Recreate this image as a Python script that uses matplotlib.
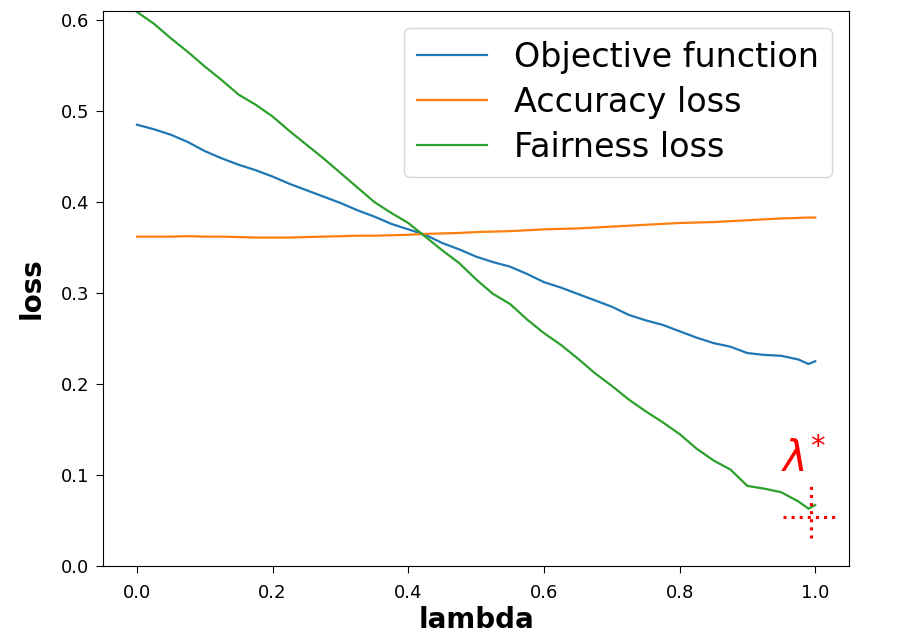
import matplotlib
matplotlib.use("Agg")
import matplotlib.pyplot as plt

lam = [0.000, 0.025, 0.050, 0.075, 0.100, 0.125, 0.150, 0.175, 0.200, 0.225,
       0.250, 0.275, 0.300, 0.325, 0.350, 0.375, 0.400, 0.425, 0.450, 0.475,
       0.500, 0.525, 0.550, 0.575, 0.600, 0.625, 0.650, 0.675, 0.700, 0.725,
       0.750, 0.775, 0.800, 0.825, 0.850, 0.875, 0.900, 0.925, 0.950, 0.975,
       0.990, 1.000]

objective = [0.485, 0.480, 0.474, 0.466, 0.456, 0.448, 0.441, 0.435, 0.428, 0.420,
             0.413, 0.406, 0.399, 0.391, 0.384, 0.376, 0.370, 0.364, 0.355, 0.348,
             0.340, 0.334, 0.329, 0.321, 0.312, 0.306, 0.299, 0.292, 0.285, 0.276,
             0.270, 0.265, 0.258, 0.251, 0.245, 0.241, 0.234, 0.232, 0.231, 0.227,
             0.222, 0.225]

accuracy = [0.362, 0.362, 0.362, 0.3625, 0.362, 0.362, 0.3615, 0.361, 0.361, 0.361,
            0.3615, 0.362, 0.3625, 0.363, 0.363, 0.3635, 0.364, 0.365, 0.3655, 0.366,
            0.367, 0.3675, 0.368, 0.369, 0.370, 0.3705, 0.371, 0.372, 0.373, 0.374,
            0.375, 0.376, 0.377, 0.3775, 0.378, 0.379, 0.380, 0.381, 0.382, 0.3825,
            0.383, 0.383]

fairness = [0.609, 0.596, 0.580, 0.565, 0.549, 0.534, 0.518, 0.507, 0.494, 0.478,
            0.463, 0.448, 0.432, 0.416, 0.400, 0.388, 0.377, 0.362, 0.347, 0.333,
            0.315, 0.299, 0.288, 0.271, 0.256, 0.243, 0.228, 0.212, 0.198, 0.183,
            0.170, 0.158, 0.145, 0.129, 0.116, 0.106, 0.088, 0.085, 0.081, 0.071,
            0.063, 0.067]

# marked optimum
lam_star = 0.994
loss_star = 0.054

fig = plt.figure(figsize=(9.2, 6.42), dpi=100)
ax = fig.add_axes([0.112, 0.1184, 0.811, 0.8645])

ax.plot(lam, objective, color="tab:blue", lw=1.6, label="Objective function")
ax.plot(lam, accuracy, color="tab:orange", lw=1.6, label="Accuracy loss")
ax.plot(lam, fairness, color="tab:green", lw=1.6, label="Fairness loss")

# crosshair at lambda*
ax.plot([lam_star, lam_star], [loss_star - 0.023, loss_star + 0.037],
        color="red", ls=":", lw=2.2)
ax.plot([lam_star - 0.041, lam_star + 0.041], [loss_star, loss_star],
        color="red", ls=":", lw=2.2)
ax.text(lam_star - 0.044, 0.103, r"$\lambda^{*}$", color="red", fontsize=30,
        va="baseline", ha="left")

ax.set_xlim(-0.05, 1.05)
ax.set_ylim(0.0, 0.61)
ax.set_xticks([0.0, 0.2, 0.4, 0.6, 0.8, 1.0])
ax.set_yticks([0.0, 0.1, 0.2, 0.3, 0.4, 0.5, 0.6])
ax.tick_params(labelsize=13, length=4.8)
ax.tick_params(axis="x", pad=8)
ax.tick_params(axis="y", pad=5)
ax.set_xlabel("lambda", fontsize=20, fontweight="bold", labelpad=3)
ax.set_ylabel("loss", fontsize=20, fontweight="bold", labelpad=11)
ax.legend(loc="upper right", fontsize=24, labelspacing=0.36, handlelength=2.1)

fig.savefig("out.png", dpi=100)
